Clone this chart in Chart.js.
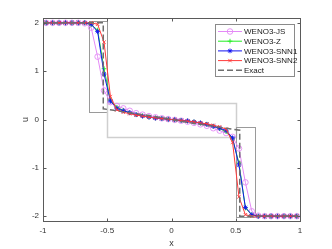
<!DOCTYPE html>
<html>
<head>
<meta charset="utf-8">
<script src="https://cdn.jsdelivr.net/npm/chart.js@4"></script>
<style>
  html, body { margin: 0; padding: 0; background: #fff; }
  #wrap { width: 332px; height: 249px; }
</style>
</head>
<body>
<div id="wrap"><canvas id="plot" width="332" height="249"></canvas></div>
<script>
const xCells = [-0.975, -0.925, -0.875, -0.825, -0.775, -0.725, -0.675, -0.625, -0.575, -0.525,
  -0.475, -0.425, -0.375, -0.325, -0.275, -0.225, -0.175, -0.125, -0.075, -0.025,
  0.025, 0.075, 0.125, 0.175, 0.225, 0.275, 0.325, 0.375, 0.425, 0.475,
  0.525, 0.575, 0.625, 0.675, 0.725, 0.775, 0.825, 0.875, 0.925, 0.975];

const wenoJS = [2, 2, 2, 2, 2, 2, 1.99, 1.9, 1.3, 0.6,
  0.36, 0.28, 0.23, 0.18, 0.13, 0.1, 0.07, 0.045, 0.025, 0.008,
  -0.008, -0.025, -0.045, -0.07, -0.1, -0.13, -0.18, -0.23, -0.28, -0.36,
  -0.6, -1.3, -1.9, -1.99, -2, -2, -2, -2, -2, -2];

const wenoZ = [2, 2, 2, 2, 2, 2, 2, 1.96, 1.85, 1.05,
  0.4, 0.25, 0.19, 0.14, 0.1, 0.075, 0.05, 0.03, 0.02, 0.006,
  -0.006, -0.02, -0.03, -0.05, -0.075, -0.1, -0.14, -0.19, -0.25, -0.4,
  -0.9, -1.83, -1.97, -2, -2, -2, -2, -2, -2, -2];

const wenoSNN1 = [2, 2, 2, 2, 2, 2, 2, 1.97, 1.82, 0.94,
  0.38, 0.23, 0.18, 0.14, 0.1, 0.07, 0.05, 0.03, 0.02, 0.005,
  -0.005, -0.02, -0.03, -0.05, -0.07, -0.1, -0.14, -0.18, -0.23, -0.38,
  -0.94, -1.82, -1.97, -2, -2, -2, -2, -2, -2, -2];

const wenoSNN2 = [2, 2, 2, 2, 2, 2, 2, 2, 1.97, 1.6,
  0.47, 0.2, 0.15, 0.12, 0.09, 0.07, 0.05, 0.035, 0.02, 0.007,
  -0.007, -0.02, -0.035, -0.05, -0.07, -0.09, -0.12, -0.15, -0.2, -0.47,
  -1.6, -1.97, -2, -2, -2, -2, -2, -2, -2, -2];

const exactX = [-1, -0.531, -0.531, -0.45, -0.35, -0.25, -0.15, -0.05, 0.05, 0.15, 0.25, 0.35, 0.45, 0.531, 0.531, 1];
const exactU = [2, 2, 0.22, 0.19, 0.15, 0.11, 0.07, 0.025, -0.025, -0.07, -0.11, -0.15, -0.19, -0.22, -2, -2];

const xTicks = [-1, -0.5, 0, 0.5, 1];
const yTicks = [-2, -1, 0, 1, 2];

// zoom boxes drawn on the axes: [x0, x1, y0, y1]
const zoomBoxes = [
  [-0.642, -0.5, 0.155, 2.03],
  [-0.5, 0.5, -0.36, 0.34],
  [0.5, 0.65, -2.01, -0.155],
];

const FONT = '"Liberation Sans", Arial, sans-serif';

function pts(xs, ys) {
  return xs.map((x, i) => ({ x, y: ys[i] }));
}

function series(label, values, color, style, order) {
  return {
    label,
    data: pts(xCells, values),
    borderColor: color,
    backgroundColor: style === "circle" ? "rgba(0,0,0,0)" : color,
    borderWidth: 1,
    pointStyle: style,
    pointRadius: style === "circle" ? 2.8 : 2.4,
    pointBorderWidth: 0.9,
    pointBorderColor: color,
    tension: 0,
    order,
  };
}

const boxPlugin = {
  id: "boxes",
  beforeDatasetsDraw(chart) {
    const { ctx, scales: { x, y } } = chart;
    ctx.save();
    zoomBoxes.forEach((b, i) => {
      ctx.strokeStyle = i === 1 ? "#cfcfcf" : "#9a9a9a";
      ctx.lineWidth = i === 1 ? 1.5 : 1;
      const x0 = Math.round(x.getPixelForValue(b[0])) + 0.5;
      const x1 = Math.round(x.getPixelForValue(b[1])) + 0.5;
      const y0 = Math.round(y.getPixelForValue(b[2])) + 0.5;
      const y1 = Math.round(y.getPixelForValue(b[3])) + 0.5;
      ctx.strokeRect(x0, y1, x1 - x0, y0 - y1);
    });
    ctx.restore();
  },
  afterDraw(chart) {
    const { ctx, chartArea: a, scales: { x, y } } = chart;
    ctx.save();
    ctx.strokeStyle = "#5a5a5a";
    ctx.lineWidth = 1;
    const L = Math.round(a.left) + 0.5, R = Math.round(a.right) + 0.5;
    const T = Math.round(a.top) + 0.5, B = Math.round(a.bottom) + 0.5;
    ctx.strokeRect(L, T, R - L, B - T);
    ctx.beginPath();
    xTicks.forEach((v) => {
      const px = Math.round(x.getPixelForValue(v)) + 0.5;
      ctx.moveTo(px, B); ctx.lineTo(px, B - 3);
      ctx.moveTo(px, T); ctx.lineTo(px, T + 3);
    });
    yTicks.forEach((v) => {
      const py = Math.round(y.getPixelForValue(v)) + 0.5;
      ctx.moveTo(L, py); ctx.lineTo(L + 3, py);
      ctx.moveTo(R, py); ctx.lineTo(R - 3, py);
    });
    ctx.stroke();

    // legend
    const lx = 215.5, ly = 24.5, lw = 79, lh = 52;
    ctx.fillStyle = "#fff";
    ctx.fillRect(lx, ly, lw, lh);
    ctx.strokeStyle = "#8a8a8a";
    ctx.strokeRect(lx, ly, lw, lh);
    ctx.font = "8px " + FONT;
    ctx.textBaseline = "middle";
    chart.data.datasets.forEach((ds, i) => {
      const rowY = 31.5 + i * 9.7;
      ctx.strokeStyle = ds.borderColor;
      ctx.lineWidth = ds.borderWidth;
      ctx.setLineDash(ds.borderDash || []);
      ctx.beginPath();
      ctx.moveTo(218, rowY);
      ctx.lineTo(242, rowY);
      ctx.stroke();
      ctx.setLineDash([]);
      if (ds.pointRadius > 0) {
        ctx.lineWidth = 0.9;
        ctx.fillStyle = ds.backgroundColor;
        Chart.helpers.drawPoint(ctx, { pointStyle: ds.pointStyle, radius: ds.pointRadius, rotation: 0, borderWidth: 0.9 }, 230, rowY);
      }
      ctx.fillStyle = "#1a1a1a";
      ctx.textAlign = "left";
      ctx.fillText(ds.label, 244, rowY + 0.5);
    });
    ctx.restore();
  },
};

new Chart(document.getElementById("plot"), {
  type: "line",
  data: {
    datasets: [
      series("WENO3-JS", wenoJS, "#e48af6", "circle", 4),
      series("WENO3-Z", wenoZ, "#22ee22", "cross", 3),
      series("WENO3-SNN1", wenoSNN1, "#1414f0", "star", 2),
      series("WENO3-SNN2", wenoSNN2, "#ff3a3a", "crossRot", 1),
      {
        label: "Exact",
        data: pts(exactX, exactU),
        borderColor: "#6e6e6e",
        borderWidth: 1.5,
        borderDash: [6, 3],
        pointRadius: 0,
        tension: 0,
        order: 0,
      },
    ],
  },
  options: {
    responsive: false,
    animation: false,
    devicePixelRatio: 1,
    layout: { padding: { left: 0, right: 32, top: 18, bottom: 0 } },
    plugins: { legend: { display: false }, tooltip: { enabled: false } },
    scales: {
      x: {
        type: "linear",
        min: -1,
        max: 1,
        afterBuildTicks: (s) => { s.ticks = xTicks.map((v) => ({ value: v })); },
        afterFit: (s) => { s.height = 28; },
        grid: { display: false, drawTicks: false },
        border: { display: false },
        ticks: { padding: 5, color: "#333", font: { size: 8, family: FONT }, callback: (v) => String(v) },
        title: { display: true, text: "x", color: "#333", font: { size: 9, family: FONT }, padding: { top: 0, bottom: 0 } },
      },
      y: {
        type: "linear",
        min: -2.1,
        max: 2.1,
        afterBuildTicks: (s) => { s.ticks = yTicks.map((v) => ({ value: v })); },
        afterFit: (s) => { s.width = 43; },
        grid: { display: false, drawTicks: false },
        border: { display: false },
        ticks: { padding: 4, color: "#333", font: { size: 8, family: FONT }, callback: (v) => String(v) },
        title: { display: true, text: "u", color: "#333", font: { size: 9, family: FONT }, padding: { top: 20, bottom: 0 } },
      },
    },
  },
  plugins: [boxPlugin],
});
</script>
</body>
</html>
